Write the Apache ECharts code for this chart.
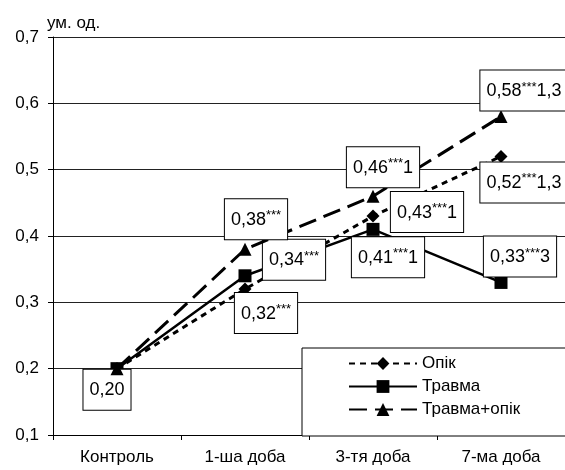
<!DOCTYPE html>
<html><head><meta charset="utf-8">
<script src="https://cdn.jsdelivr.net/npm/echarts@6/dist/echarts.min.js"></script>
<style>html,body{margin:0;padding:0;background:#fff}#c{width:565px;height:470px}</style>
</head><body><div id="c"></div>
<script>
const categories = ['Контроль', '1-ша доба', '3-тя доба', '7-ма доба'];
const seriesNames = ['Опік', 'Травма', 'Травма+опік'];
const opik = [0.20, 0.32, 0.43, 0.52];
const travma = [0.20, 0.34, 0.41, 0.33];
const travmaOpik = [0.20, 0.38, 0.46, 0.58];
const opikMarks = [null, '***', '***|1', '***|1,3'];
const travmaMarks = ['', '***', '***|1', '***|3'];
const travmaOpikMarks = [null, '***', '***|1', '***|1,3'];
const yTicks = ['0,1', '0,2', '0,3', '0,4', '0,5', '0,6', '0,7'];
const yUnit = 'ум. од.';

// layout (label box offsets relative to the point)
const labelOffsets = [
  [null, [21, 24], [54, -4], [23, 26]],
  [[-10, 21], [49, -16], [15, 28], [19, -26]],
  [null, [11, -30], [10, -29], [23, -26]]
];
const FONT = 'Liberation Sans, Arial, sans-serif';

function fmt(v) { return v.toFixed(2).replace('.', ','); }
function buildData(vals, marks, offs) {
  return vals.map((v, i) => {
    const m = marks[i];
    if (m === null) return { value: v, label: { show: false } };
    const parts = m.split('|');
    let txt = '{a|' + fmt(v) + '}';
    if (parts[0]) txt += '{s|' + parts[0] + '}';
    if (parts[1]) txt += '{a|' + parts[1] + '}';
    return {
      value: v,
      label: {
        show: true, position: 'inside', offset: offs[i],
        formatter: txt
      }
    };
  });
}
const labelBase = {
  backgroundColor: '#fff', borderColor: '#000', borderWidth: 1,
  padding: [10, 6, 9, 6],
  rich: {
    a: { fontSize: 18, fontFamily: FONT, color: '#000', lineHeight: 21 },
    s: { fontSize: 13, fontFamily: FONT, color: '#000', lineHeight: 16, verticalAlign: 'top' }
  }
};

const chart = echarts.init(document.getElementById('c'));
chart.setOption({
  animation: false,
  backgroundColor: '#fff',
  grid: { left: 53, top: 37, width: 520, height: 398, containLabel: false },
  graphic: [{
    type: 'text', left: 47, top: 15,
    style: { text: yUnit, fontSize: 17, fontFamily: FONT, fill: '#000' }
  }],
  legend: {
    orient: 'vertical', left: 302, top: 348,
    backgroundColor: '#fff', borderColor: '#000', borderWidth: 1,
    padding: [7, 50, 18, 46], itemGap: 6, itemWidth: 68, itemHeight: 16,
    textStyle: { fontSize: 17, fontFamily: FONT, color: '#000' },
    data: seriesNames
  },
  xAxis: {
    type: 'category', data: categories, boundaryGap: true,
    axisLine: { lineStyle: { color: '#000', width: 1 } },
    axisTick: { show: true, inside: false, length: 5, lineStyle: { color: '#000' } },
    axisLabel: { fontSize: 17, fontFamily: FONT, color: '#000', margin: 14 },
    splitLine: { show: false }
  },
  yAxis: {
    type: 'value', min: 0.1, max: 0.7, interval: 0.1,
    axisLine: { show: true, lineStyle: { color: '#000', width: 1 } },
    axisTick: { show: true, inside: false, length: 5, lineStyle: { color: '#000' } },
    axisLabel: {
      fontSize: 17, fontFamily: FONT, color: '#000', margin: 14,
      formatter: (v) => yTicks[Math.round((v - 0.1) * 10)]
    },
    splitLine: { show: true, lineStyle: { color: '#222', width: 1 } }
  },
  series: [
    {
      name: seriesNames[0], type: 'line', data: buildData(opik, opikMarks, labelOffsets[0]),
      symbol: 'diamond', symbolSize: 13,
      lineStyle: { color: '#000', width: 3, type: [6, 5] },
      itemStyle: { color: '#000' }, label: labelBase, z: 3
    },
    {
      name: seriesNames[1], type: 'line', data: buildData(travma, travmaMarks, labelOffsets[1]),
      symbol: 'rect', symbolSize: 13,
      lineStyle: { color: '#000', width: 2.5, type: 'solid' },
      itemStyle: { color: '#000' }, label: labelBase, z: 4
    },
    {
      name: seriesNames[2], type: 'line', data: buildData(travmaOpik, travmaOpikMarks, labelOffsets[2]),
      symbol: 'triangle', symbolSize: 13,
      lineStyle: { color: '#000', width: 3, type: [18, 8] },
      itemStyle: { color: '#000' }, label: labelBase, z: 5
    }
  ]
});
</script></body></html>
